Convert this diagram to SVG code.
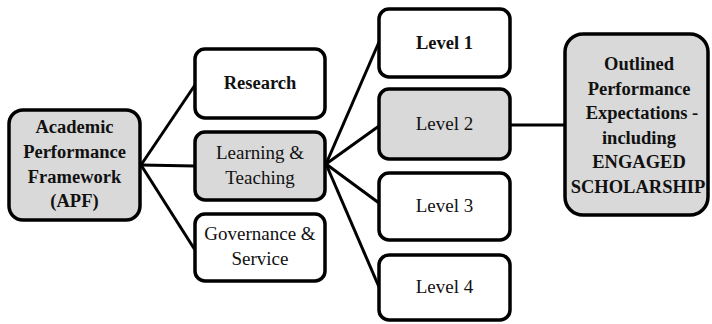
<svg xmlns="http://www.w3.org/2000/svg" width="712" height="324" viewBox="0 0 712 324">
<style>
.box{stroke:#000;stroke-width:3.5;fill:#fff}
.g{fill:#d9d9d9}
.t{font-family:"Liberation Serif","Times New Roman",serif;font-size:19px;fill:#111;text-anchor:middle}
.b{font-weight:bold;font-size:18.5px}
.c{stroke:#000;stroke-width:3;fill:none}
</style>
<rect width="712" height="324" fill="#fff"/>
<g id="connectors">
<line class="c" x1="141" y1="165" x2="195" y2="85"/>
<line class="c" x1="141" y1="165" x2="195" y2="166"/>
<line class="c" x1="141" y1="165" x2="195" y2="250"/>
<line class="c" x1="326" y1="164" x2="379" y2="42"/>
<line class="c" x1="326" y1="164" x2="379" y2="126"/>
<line class="c" x1="326" y1="164" x2="379" y2="203"/>
<line class="c" x1="326" y1="164" x2="379" y2="287"/>
<line class="c" x1="510" y1="125" x2="565" y2="125"/>
</g>
<g id="apf">
<rect class="box g" x="9" y="110" width="131" height="110" rx="14"/>
<text class="t b" x="74.5" y="133">Academic</text>
<text class="t b" x="74.5" y="158">Performance</text>
<text class="t b" x="74.5" y="183">Framework</text>
<text class="t b" x="74.5" y="207">(APF)</text>
</g>
<g id="research">
<rect class="box" x="195" y="49" width="130" height="69" rx="10"/>
<text class="t b" x="260" y="89">Research</text>
</g>
<g id="learning">
<rect class="box g" x="195" y="132" width="130" height="68" rx="10"/>
<text class="t" x="260" y="159">Learning &amp;</text>
<text class="t" x="260" y="184">Teaching</text>
</g>
<g id="governance">
<rect class="box" x="195" y="214" width="130" height="67" rx="10"/>
<text class="t" x="260" y="240">Governance &amp;</text>
<text class="t" x="260" y="265">Service</text>
</g>
<g id="level1">
<rect class="box" x="379" y="9" width="131" height="68" rx="10"/>
<text class="t b" x="444.5" y="49">Level 1</text>
</g>
<g id="level2">
<rect class="box g" x="379" y="89" width="131" height="70" rx="10"/>
<text class="t" x="444.5" y="130">Level 2</text>
</g>
<g id="level3">
<rect class="box" x="379" y="173" width="131" height="67" rx="10"/>
<text class="t" x="444.5" y="212">Level 3</text>
</g>
<g id="level4">
<rect class="box" x="379" y="255" width="131" height="65" rx="10"/>
<text class="t" x="444.5" y="293">Level 4</text>
</g>
<g id="outlined">
<rect class="box g" x="565" y="34" width="143" height="181" rx="18"/>
<text class="t b" x="639" y="70">Outlined</text>
<text class="t b" x="639" y="95">Performance</text>
<text class="t b" x="642" y="119">Expectations -</text>
<text class="t b" x="639" y="144">including</text>
<text class="t b" x="639" y="168">ENGAGED</text>
<text class="t b" x="638" y="193">SCHOLARSHIP</text>
</g>
</svg>
